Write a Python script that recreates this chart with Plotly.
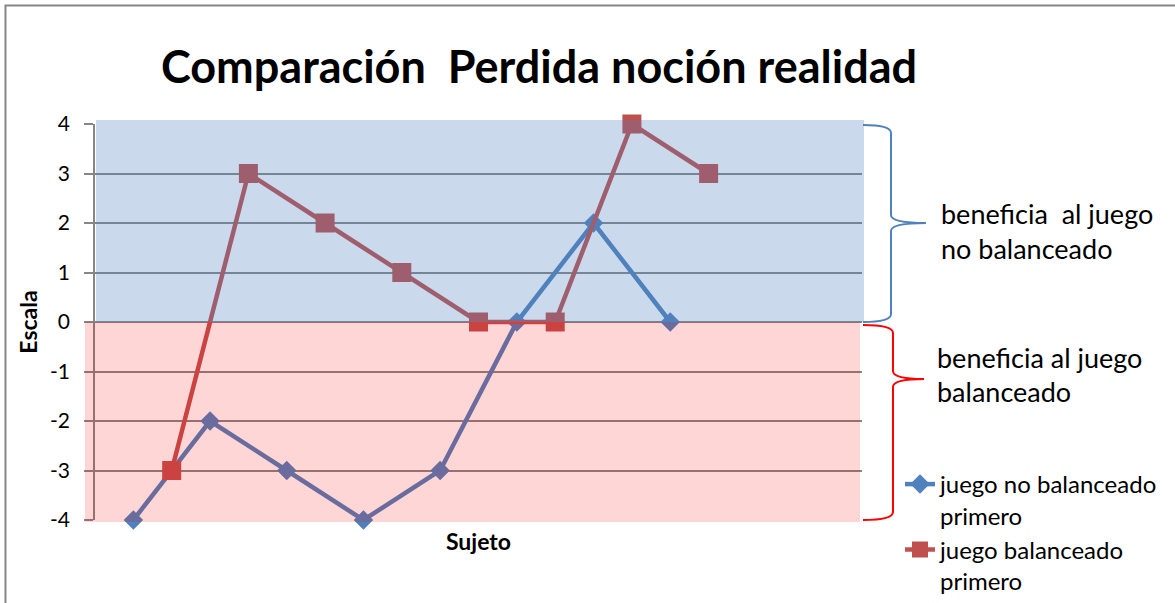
import plotly.graph_objects as go

# chart data
blue_name = "juego no balanceado<br>primero"
blue_x = [1, 3, 5, 7, 9, 11, 13, 15]
blue_y = [-4, -2, -3, -4, -3, 0, 2, 0]

red_name = "juego balanceado<br>primero"
red_x = [2, 4, 6, 8, 10, 12, 14, 16]
red_y = [-3, 3, 2, 1, 0, 0, 4, 3]

y_ticks = [-4, -3, -2, -1, 0, 1, 2, 3, 4]
y_tick_text = ["-4", "-3", "-2", "-1", "0", "1", "2", "3", "4"]

W, H = 1175, 603
L, R, T, B = 95, 862, 124, 520   # plot area in pixels
FONT = "Lato"
GRAY = "#868686"


def px(x):
    return (x - L) / (R - L)


def py(y):
    return (B - y) / (B - T)


def path(pts):
    return "M " + " L ".join("%.4f,%.4f" % (px(a), py(b)) for a, b in pts)


def brace(x0, xc, xt, y0, ym, y1):
    # curly brace drawn in pixel space, converted to paper coords
    return ("M %.4f,%.4f Q %.4f,%.4f %.4f,%.4f L %.4f,%.4f Q %.4f,%.4f %.4f,%.4f "
            "Q %.4f,%.4f %.4f,%.4f L %.4f,%.4f Q %.4f,%.4f %.4f,%.4f") % (
        px(x0), py(y0), px(xc), py(y0), px(xc), py(y0 + 8),
        px(xc), py(ym - 8), px(xc), py(ym), px(xt), py(ym),
        px(xc), py(ym), px(xc), py(ym + 8),
        px(xc), py(y1 - 8), px(xc), py(y1), px(x0), py(y1))


fig = go.Figure()
fig.add_trace(go.Scatter(x=blue_x, y=blue_y, name=blue_name, mode="lines+markers",
                         cliponaxis=False,
                         line=dict(color="#4F81BD", width=4.5),
                         marker=dict(symbol="diamond", size=15, color="#4F81BD")))
fig.add_trace(go.Scatter(x=red_x, y=red_y, name=red_name, mode="lines+markers",
                         cliponaxis=False,
                         line=dict(color="#C0504D", width=4.5),
                         marker=dict(symbol="square", size=19, color="#C0504D")))

shapes = [
    # translucent bands over the lines
    dict(type="rect", xref="paper", yref="paper", layer="above", line_width=0,
         x0=px(96), x1=px(864), y0=py(322), y1=py(120),
         fillcolor="rgba(79,129,189,0.3)"),
    dict(type="rect", xref="paper", yref="paper", layer="above", line_width=0,
         x0=px(85), x1=px(860), y0=py(522), y1=py(322),
         fillcolor="rgba(255,0,0,0.16)"),
    # braces
    dict(type="path", xref="paper", yref="paper", layer="above",
         path=brace(863, 891, 926, 125, 223, 322),
         line=dict(color="#4F81BD", width=2)),
    dict(type="path", xref="paper", yref="paper", layer="above",
         path=brace(863, 893, 924, 325, 379, 520),
         line=dict(color="#FF0000", width=2)),
    # chart border (top and left)
    dict(type="path", xref="paper", yref="paper", layer="above",
         path=path([(5.5, 603), (5.5, 5.5), (1175, 5.5)]),
         line=dict(color=GRAY, width=2)),
]

notes = [
    ("beneficia \u00a0al juego", 939, 213),
    ("no balanceado", 939, 248),
    ("beneficia al juego", 935, 357),
    ("balanceado", 935, 392),
]
annotations = [dict(text=t, xref="paper", yref="paper", x=px(x), y=py(y),
                    xanchor="left", yanchor="middle", showarrow=False,
                    font=dict(family=FONT, size=27, color="black"))
               for t, x, y in notes]

fig.update_layout(
    width=W, height=H,
    margin=dict(l=L, r=W - R, t=T, b=H - B, pad=0),
    paper_bgcolor="white", plot_bgcolor="white",
    font=dict(family=FONT, color="black"),
    title=dict(text="<b>Comparación \u00a0Perdida noción realidad</b>",
               x=539 / W, xref="container", xanchor="center",
               y=1 - 67 / H, yref="container", yanchor="middle",
               font=dict(family=FONT, size=45, color="black")),
    xaxis=dict(range=[0, 20], showgrid=False, zeroline=False, showticklabels=False,
               ticks="", showline=False,
               title=dict(text="<b>Sujeto</b>", standoff=13,
                          font=dict(family=FONT, size=23))),
    yaxis=dict(range=[-4, 4], tickvals=y_ticks, ticktext=y_tick_text,
               showgrid=True, gridcolor=GRAY,
               gridwidth=1.5, zeroline=False, showline=True, linecolor=GRAY,
               linewidth=1.5, ticks="outside", ticklen=9, tickcolor=GRAY,
               tickwidth=1.5, ticklabelstandoff=10,
               tickfont=dict(family=FONT, size=21),
               title=dict(text="<b>Escala</b>", standoff=6,
                          font=dict(family=FONT, size=23))),
    legend=dict(xref="container", yref="container",
                x=900 / W, y=1 - 462 / H, xanchor="left", yanchor="top",
                font=dict(family=FONT, size=24), valign="top",
                tracegroupgap=0, bgcolor="rgba(0,0,0,0)"),
    shapes=shapes,
    annotations=annotations,
)

fig.write_html("out.html", config={"displayModeBar": False},
               post_script="document.body.style.margin='0';")
